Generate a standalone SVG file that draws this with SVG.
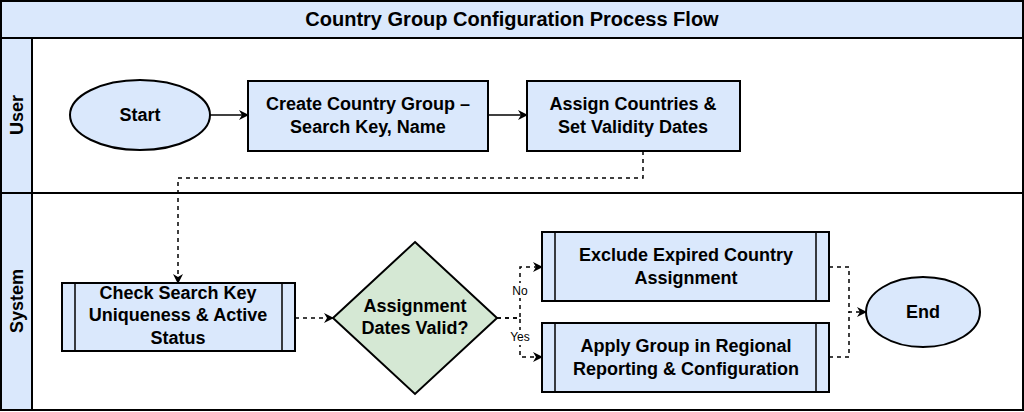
<svg xmlns="http://www.w3.org/2000/svg" width="1024" height="412" viewBox="0 0 1024 412">
<style>
text{font-family:"Liberation Sans",Arial,sans-serif;font-weight:bold;fill:#000;text-anchor:middle}
.n{fill:#dae8fc;stroke:#000;stroke-width:2}
.l{fill:none;stroke:#000;stroke-width:1.5}
.d{fill:none;stroke:#000;stroke-width:1.5;stroke-dasharray:4 4}
.t{font-size:18px}
.s{font-size:12px;font-weight:normal}
</style>
<defs><marker id="a" markerWidth="10" markerHeight="10" refX="9" refY="5" orient="auto" markerUnits="userSpaceOnUse"><path d="M0,0 L10,5 L0,10 L3,5 Z" fill="#000"/></marker></defs>
<g id="pool">
<rect x="1" y="1" width="1022" height="409" fill="#fff" stroke="#000" stroke-width="2"/>
<rect x="1" y="1" width="1022" height="37" class="n"/>
<text x="512" y="26" font-size="20">Country Group Configuration Process Flow</text>
<rect x="1" y="38" width="1022" height="155" fill="none" stroke="#000" stroke-width="2"/>
<rect x="1" y="38" width="31" height="155" class="n"/>
<text transform="translate(23,115) rotate(-90)" class="t">User</text>
<rect x="1" y="193" width="1022" height="217" fill="none" stroke="#000" stroke-width="2"/>
<rect x="1" y="193" width="31" height="217" class="n"/>
<text transform="translate(23,301) rotate(-90)" class="t">System</text>
</g>
<g id="start"><ellipse cx="140" cy="115" rx="70" ry="35" class="n"/><text x="140" y="121" class="t">Start</text></g>
<g id="create"><rect x="248" y="81" width="240" height="70" class="n"/><text x="368" y="110" class="t">Create Country Group –</text><text x="368" y="133" class="t">Search Key, Name</text></g>
<g id="assign"><rect x="527" y="81" width="213" height="70" class="n"/><text x="633" y="110" class="t">Assign Countries &amp;</text><text x="633" y="133" class="t">Set Validity Dates</text></g>
<g id="check"><rect x="62" y="283" width="233" height="68" class="n"/><line x1="75" y1="283" x2="75" y2="351" class="l"/><line x1="282" y1="283" x2="282" y2="351" class="l"/><text x="178" y="299" class="t">Check Search Key</text><text x="178" y="321" class="t">Uniqueness &amp; Active</text><text x="178" y="344" class="t">Status</text></g>
<g id="valid"><polygon points="415,242 497,318 415,394 333,318" fill="#d5e8d4" stroke="#000" stroke-width="2"/><text x="415" y="312" class="t">Assignment</text><text x="415" y="334" class="t">Dates Valid?</text></g>
<g id="exclude"><rect x="542" y="232" width="287" height="69" class="n"/><line x1="555" y1="232" x2="555" y2="301" class="l"/><line x1="816" y1="232" x2="816" y2="301" class="l"/><text x="686" y="261" class="t">Exclude Expired Country</text><text x="686" y="284" class="t">Assignment</text></g>
<g id="apply"><rect x="542" y="323" width="287" height="69" class="n"/><line x1="555" y1="323" x2="555" y2="392" class="l"/><line x1="816" y1="323" x2="816" y2="392" class="l"/><text x="686" y="352" class="t">Apply Group in Regional</text><text x="686" y="375" class="t">Reporting &amp; Configuration</text></g>
<g id="end"><ellipse cx="923" cy="312" rx="57" ry="35" class="n"/><text x="923" y="318" class="t">End</text></g>
<g id="connectors">
<line x1="210" y1="115" x2="248" y2="115" class="l" marker-end="url(#a)"/>
<line x1="488" y1="115" x2="527" y2="115" class="l" marker-end="url(#a)"/>
<path d="M643,151 V178 H178 V283" class="d" marker-end="url(#a)"/>
<line x1="295" y1="318" x2="333" y2="318" class="d" marker-end="url(#a)"/>
<path d="M497,318 H520 V267 H542" class="d" marker-end="url(#a)"/>
<path d="M497,318 H520 V357 H542" class="d" marker-end="url(#a)"/>
<rect x="510" y="283" width="20" height="15" fill="#fff"/><text x="520" y="295" class="s">No</text>
<rect x="508" y="330" width="24" height="15" fill="#fff"/><text x="520" y="341" class="s">Yes</text>
<path d="M829,267 H849 V312 H866" class="d" marker-end="url(#a)"/>
<path d="M829,357 H849 V312" class="d"/>
</g>
</svg>
